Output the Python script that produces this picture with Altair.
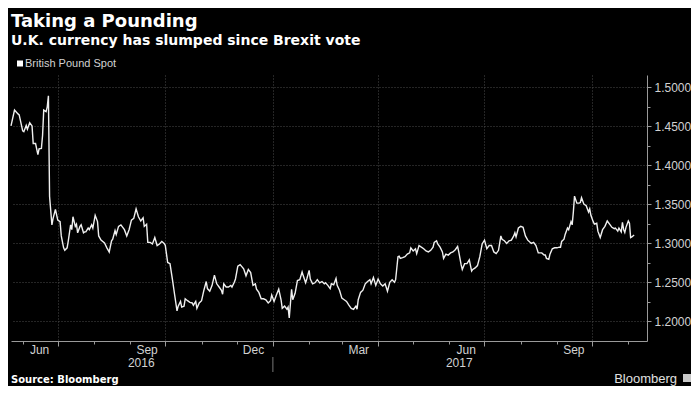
import altair as alt
import pandas as pd

# ---------------- text ----------------
title_text = "Taking a Pounding"
subtitle_text = "U.K. currency has slumped since Brexit vote"
series_name = "British Pound Spot"
source_text = "Source: Bloomberg"
brand_text = "Bloomberg"

# ---------------- data (GBP/USD) ----------------
start_date = "2016-05-22"
days = [0, 3, 6, 7, 10, 11, 13, 14, 16, 18, 19, 21, 23, 24, 26, 27, 28, 30, 31, 32,
        33, 35, 36, 38, 40, 42, 43, 45, 46, 48, 49, 51, 52, 53, 55, 56, 57, 59, 60, 62,
        63, 64, 66, 67, 69, 70, 72, 74, 75, 77, 80, 82, 84, 86, 87, 89, 90, 92, 94, 97,
        99, 101, 103, 105, 107, 109, 111, 113, 114, 116, 117, 119, 121, 123, 125, 127, 129, 131, 132, 134,
        136, 138, 140, 142, 143, 145, 146, 148, 149, 151, 153, 155, 156, 158, 159, 161, 163, 165, 167, 168,
        170, 172, 174, 176, 178, 180, 181, 182, 184, 186, 188, 189, 191, 192, 194, 196, 199, 201, 203, 205,
        207, 209, 210, 212, 214, 216, 218, 220, 222, 223, 225, 227, 229, 231, 232, 234, 236, 237, 238, 240,
        241, 243, 245, 247, 249, 250, 252, 253, 255, 256, 258, 260, 262, 264, 266, 268, 269, 271, 273, 274,
        276, 278, 279, 281, 283, 285, 287, 289, 291, 293, 295, 296, 297, 299, 301, 303, 305, 307, 308, 310,
        312, 314, 316, 318, 320, 322, 324, 326, 328, 329, 331, 332, 333, 335, 337, 339, 341, 342, 344, 346,
        347, 349, 351, 353, 355, 357, 359, 361, 362, 364, 365, 367, 369, 370, 372, 374, 376, 378, 380, 382,
        383, 385, 386, 388, 390, 392, 394, 395, 397, 399, 401, 403, 405, 407, 409, 411, 413, 415, 417, 419,
        420, 422, 424, 426, 428, 430, 431, 432, 434, 436, 438, 440, 442, 444, 445, 447, 449, 451, 452, 454,
        456, 457, 458, 460, 461, 463, 465, 467, 469, 470, 471, 473, 474, 476, 477, 479, 480, 481, 482, 484,
        486, 487, 488, 490, 492, 494, 495, 496, 498, 499, 501, 502, 504, 506, 508, 510, 512, 514, 516, 517,
        519, 520, 522, 523, 524, 525, 526, 528, 529, 530, 531, 533]
values = [1.4503, 1.4706, 1.4657, 1.4645, 1.4441, 1.4429, 1.4510, 1.4461, 1.4543, 1.4503,
          1.4278, 1.4278, 1.4135, 1.4209, 1.4216, 1.4380, 1.4706, 1.4686, 1.4748, 1.4890,
          1.3600, 1.3237, 1.3319, 1.3433, 1.3298, 1.3278, 1.3095, 1.2943, 1.2911, 1.2943,
          1.3033, 1.3237, 1.3175, 1.3340, 1.3217, 1.3245, 1.3135, 1.3217, 1.3237, 1.3135,
          1.3147, 1.3147, 1.3196, 1.3175, 1.3237, 1.3196, 1.3359, 1.3278, 1.3095, 1.3041,
          1.3004, 1.2943, 1.2890, 1.3033, 1.3053, 1.3163, 1.3114, 1.3217, 1.3237, 1.3175,
          1.3095, 1.3175, 1.3298, 1.3319, 1.3441, 1.3340, 1.3286, 1.3327, 1.3217, 1.3245,
          1.3013, 1.3013, 1.2992, 1.3074, 1.2972, 1.2992, 1.3025, 1.3000, 1.2972, 1.2755,
          1.2740, 1.2544, 1.2339, 1.2135, 1.2196, 1.2257, 1.2184, 1.2196, 1.2290, 1.2266,
          1.2245, 1.2237, 1.2208, 1.2257, 1.2168, 1.2237, 1.2266, 1.2400, 1.2511, 1.2421,
          1.2388, 1.2462, 1.2593, 1.2482, 1.2441, 1.2400, 1.2348, 1.2482, 1.2441, 1.2441,
          1.2462, 1.2441, 1.2502, 1.2544, 1.2707, 1.2727, 1.2673, 1.2584, 1.2666, 1.2625,
          1.2462, 1.2482, 1.2413, 1.2372, 1.2290, 1.2290, 1.2278, 1.2237, 1.2266, 1.2339,
          1.2257, 1.2339, 1.2413, 1.2278, 1.2168, 1.2196, 1.2156, 1.2184, 1.2045, 1.2413,
          1.2278, 1.2360, 1.2523, 1.2535, 1.2633, 1.2584, 1.2495, 1.2544, 1.2654, 1.2544,
          1.2482, 1.2495, 1.2535, 1.2495, 1.2511, 1.2482, 1.2495, 1.2462, 1.2421, 1.2482,
          1.2470, 1.2551, 1.2462, 1.2400, 1.2299, 1.2278, 1.2257, 1.2208, 1.2168, 1.2156,
          1.2196, 1.2156, 1.2278, 1.2372, 1.2400, 1.2482, 1.2511, 1.2535, 1.2482, 1.2563,
          1.2462, 1.2544, 1.2482, 1.2453, 1.2482, 1.2388, 1.2502, 1.2535, 1.2502, 1.2535,
          1.2829, 1.2837, 1.2808, 1.2817, 1.2829, 1.2862, 1.2878, 1.2943, 1.2902, 1.2931,
          1.2869, 1.2972, 1.2951, 1.2931, 1.2902, 1.2890, 1.2911, 1.2951, 1.3013, 1.3033,
          1.2992, 1.2951, 1.2890, 1.2808, 1.2862, 1.2850, 1.2878, 1.2890, 1.2918, 1.2960,
          1.2890, 1.2727, 1.2666, 1.2740, 1.2740, 1.2789, 1.2645, 1.2666, 1.2686, 1.2715,
          1.2829, 1.2992, 1.3041, 1.2931, 1.2972, 1.2972, 1.2890, 1.2869, 1.2911, 1.3095,
          1.3053, 1.3033, 1.3000, 1.3033, 1.3041, 1.3095, 1.3135, 1.3082, 1.3196, 1.3217,
          1.3205, 1.3095, 1.3041, 1.3013, 1.3000, 1.3013, 1.2972, 1.2878, 1.2878, 1.2878,
          1.2850, 1.2850, 1.2808, 1.2796, 1.2862, 1.2931, 1.2943, 1.2943, 1.2951, 1.2951,
          1.3025, 1.3053, 1.3114, 1.3196, 1.3175, 1.3278, 1.3237, 1.3401, 1.3604, 1.3515,
          1.3515, 1.3523, 1.3584, 1.3502, 1.3482, 1.3401, 1.3441, 1.3359, 1.3278, 1.3245,
          1.3257, 1.3156, 1.3074, 1.3175, 1.3217, 1.3286, 1.3245, 1.3205, 1.3188, 1.3196,
          1.3156, 1.3196, 1.3147, 1.3270, 1.3175, 1.3139, 1.3205, 1.3286, 1.3257, 1.3074,
          1.3082, 1.3107]

# ---------------- axis ticks ----------------
y_ticks = [1.20, 1.25, 1.30, 1.35, 1.40, 1.45, 1.50]
y_minor_ticks = [1.225, 1.275, 1.325, 1.375, 1.425, 1.475]
x_start = (2016, 5, 22)
x_end = (2017, 11, 17)
quarter_starts = [(2016, 7, 1), (2016, 10, 1), (2017, 1, 1), (2017, 4, 1), (2017, 7, 1), (2017, 10, 1)]
month_starts = [(2016, m, 1) for m in range(6, 13)] + [(2017, m, 1) for m in range(1, 12)]
month_label_pos = [(2016, 6, 15), (2016, 9, 15), (2016, 12, 15), (2017, 3, 15), (2017, 6, 15), (2017, 9, 15)]
year_label_pos = [(2016, 9, 10), (2017, 6, 9)]
year_break = "2017-01-01"

df = pd.DataFrame({
    "date": pd.Timestamp(start_date) + pd.to_timedelta(days, unit="D"),
    "value": values,
})


def dt(t):
    return alt.DateTime(year=t[0], month=t[1], date=t[2])


W, H = 636, 266
GRID = "#4a4a4a"
AXC = "#9a9a9a"
LAB = "#d2d2d2"
FONT = "Liberation Sans"

x_scale = alt.Scale(domain=[dt(x_start), dt(x_end)])
y_scale = alt.Scale(domain=[1.175, 1.5155], nice=False, zero=False)

base = alt.Chart(df)

line = base.mark_line(color="#f0f0f0", strokeWidth=1.4).encode(
    x=alt.X("date:T", scale=x_scale, axis=alt.Axis(
        orient="bottom", values=[dt(t) for t in quarter_starts], grid=True,
        gridColor=GRID, gridDash=[1, 2], gridWidth=1, labels=False, ticks=True,
        tickSize=5, tickColor=AXC, domain=True, domainColor=AXC, domainWidth=1, title=None)),
    y=alt.Y("value:Q", scale=y_scale, axis=alt.Axis(
        orient="right", values=y_ticks, format=".4f", grid=True, gridColor=GRID,
        gridDash=[1, 2], gridWidth=1, tickSize=4, tickColor=AXC, domain=True,
        domainColor=AXC, labelFont=FONT, labelFontSize=12, labelColor=LAB,
        labelPadding=3, title=None, labelOverlap=False)),
)

x_minor = base.mark_rule(opacity=0).encode(
    x=alt.X("date:T", scale=x_scale, axis=alt.Axis(
        orient="bottom", values=[dt(t) for t in month_starts], grid=False, labels=False,
        domain=False, tickSize=3, tickColor=AXC, title=None)))

x_months = base.mark_rule(opacity=0).encode(
    x=alt.X("date:T", scale=x_scale, axis=alt.Axis(
        orient="bottom", values=[dt(t) for t in month_label_pos], grid=False,
        ticks=False, tickSize=0, domain=False, labelExpr="timeFormat(datum.value, '%b')",
        labelFont=FONT, labelFontSize=12, labelColor=LAB, labelPadding=3,
        labelOverlap=False, labelFlush=False, title=None)))

x_years = base.mark_rule(opacity=0).encode(
    x=alt.X("date:T", scale=x_scale, axis=alt.Axis(
        orient="bottom", values=[dt(t) for t in year_label_pos], grid=False,
        ticks=False, tickSize=0, domain=False, labelExpr="timeFormat(datum.value, '%Y')",
        labelFont=FONT, labelFontSize=12, labelColor=LAB, labelPadding=16,
        labelOverlap=False, labelFlush=False, title=None)))

y_minor = base.mark_rule(opacity=0).encode(
    y=alt.Y("value:Q", scale=y_scale, axis=alt.Axis(
        orient="right", values=y_minor_ticks, grid=False, labels=False, domain=False,
        tickSize=3, tickColor=AXC, title=None)))

sep = alt.Chart(pd.DataFrame({"date": [pd.Timestamp(year_break)]})).mark_rule(
    color="#777777", strokeWidth=1).encode(
    x=alt.X("date:T", scale=x_scale, axis=None),
    y=alt.value(H + 16), y2=alt.value(H + 31))


def label(text, x, y, size, weight="normal", font=FONT, color=LAB, align="left"):
    return alt.Chart(pd.DataFrame({"t": [text]})).mark_text(
        align=align, baseline="alphabetic", font=font, fontSize=size,
        fontWeight=weight, color=color).encode(
        text="t:N", x=alt.value(x), y=alt.value(y))


title = label(title_text, 0, -48, 18, "bold", "DejaVu Sans", "#ffffff")
subtitle = label(subtitle_text, 0, -30, 14, "bold", "DejaVu Sans", "#ffffff")
legend_text = label(series_name, 14, -8, 11, color=LAB)
legend_box = alt.Chart(pd.DataFrame({"t": [series_name]})).mark_square(
    color="#ffffff", size=36, opacity=1).encode(x=alt.value(9), y=alt.value(-11.5))
source = label(source_text, 0, H + 42, 10, "bold", "DejaVu Sans", "#ffffff")
brand = label(brand_text, W + 30, H + 42, 13, color="#e0e0e0", align="right")
brand_icon = alt.Chart(pd.DataFrame({"t": [brand_text]})).mark_square(
    color="#c8c8c8", size=64, opacity=1).encode(x=alt.value(W + 40), y=alt.value(H + 37))

chart = alt.layer(
    x_minor, x_months, x_years, y_minor, line, sep,
    title, subtitle, legend_box, legend_text, source, brand, brand_icon,
).resolve_axis(x="independent", y="independent").properties(
    width=W, height=H, background="#000000",
    padding={"left": 0, "top": 5, "right": 0, "bottom": 0},
).configure_view(stroke=None)

chart.save("out.html", embed_options={"renderer": "svg", "actions": False})
